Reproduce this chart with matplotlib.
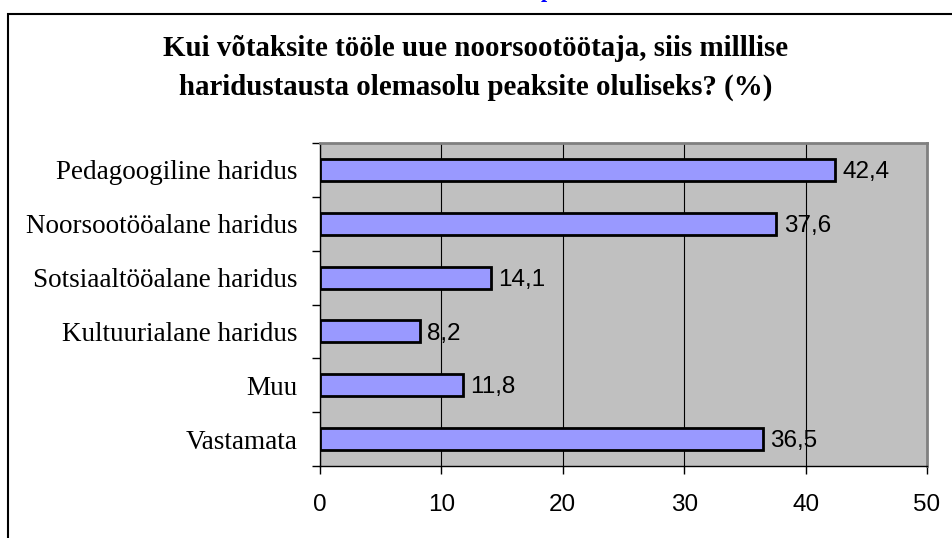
import matplotlib.pyplot as plt
from matplotlib.patches import Rectangle

# andmed
kategooriad = ['Pedagoogiline haridus', 'Noorsootööalane haridus', 'Sotsiaaltööalane haridus',
               'Kultuurialane haridus', 'Muu', 'Vastamata']
vaartused = [42.4, 37.6, 14.1, 8.2, 11.8, 36.5]
x_ticks = [0, 10, 20, 30, 40, 50]

W, H = 952, 538
fig = plt.figure(figsize=(W / 100, H / 100), dpi=100)

# välimine raam (paremalt ja alt ära lõigatud)
fig.patches.append(Rectangle((8 / W, -0.1), 1.2, 1 - 14 / H + 0.1, transform=fig.transFigure,
                             fill=False, edgecolor='black', linewidth=1.5))
# sinine lõigatud tekst üleval
fig.text(547 / W, 1 + 3 / H, 'p', color='blue', fontsize=16, family='Liberation Serif',
         ha='center', va='baseline', fontweight='bold')

ax = fig.add_axes([320 / W, 1 - 466 / H, (927 - 320) / W, (466 - 143) / H])
ax.set_facecolor('#c0c0c0')

y = list(range(len(kategooriad)))
ax.barh(y, vaartused, height=0.41, color='#9999ff', edgecolor='black', linewidth=2, zorder=3)
for yi, v in zip(y, vaartused):
    ax.text(v + 0.6, yi + 0.04, f'{v:.1f}'.replace('.', ','), va='center', ha='left',
            fontsize=17.5, family='Liberation Sans', zorder=4)

ax.set_xlim(0, 50)
ax.set_ylim(len(kategooriad) - 0.5, -0.5)
ax.set_xticks(x_ticks)
ax.set_xticklabels([str(t) for t in x_ticks], family='Liberation Sans', fontsize=17.5)
ax.set_yticks(y)
ax.set_yticklabels(kategooriad, family='Liberation Serif', fontsize=19.5)
ax.set_yticks([i - 0.5 for i in range(len(kategooriad) + 1)], minor=True)
ax.tick_params(axis='y', which='major', length=0, pad=16)
ax.tick_params(axis='y', which='minor', length=6, width=1, direction='out')
ax.tick_params(axis='x', length=6, width=1, direction='out', pad=14)

ax.grid(axis='x', color='black', linewidth=0.8, zorder=1)
ax.set_axisbelow(True)
for s in ['top', 'right']:
    ax.spines[s].set_color('#808080')
    ax.spines[s].set_linewidth(2)
for s in ['left', 'bottom']:
    ax.spines[s].set_color('black')
    ax.spines[s].set_linewidth(1)

fig.text(476 / W, 1 - 68 / H,
         'Kui võtaksite tööle uue noorsootöötaja, siis milllise\nharidustausta olemasolu peaksite oluliseks? (%)',
         ha='center', va='center', family='Liberation Serif', fontweight='bold', fontsize=20.8,
         linespacing=1.55)

fig.savefig('out.png', dpi=100)
